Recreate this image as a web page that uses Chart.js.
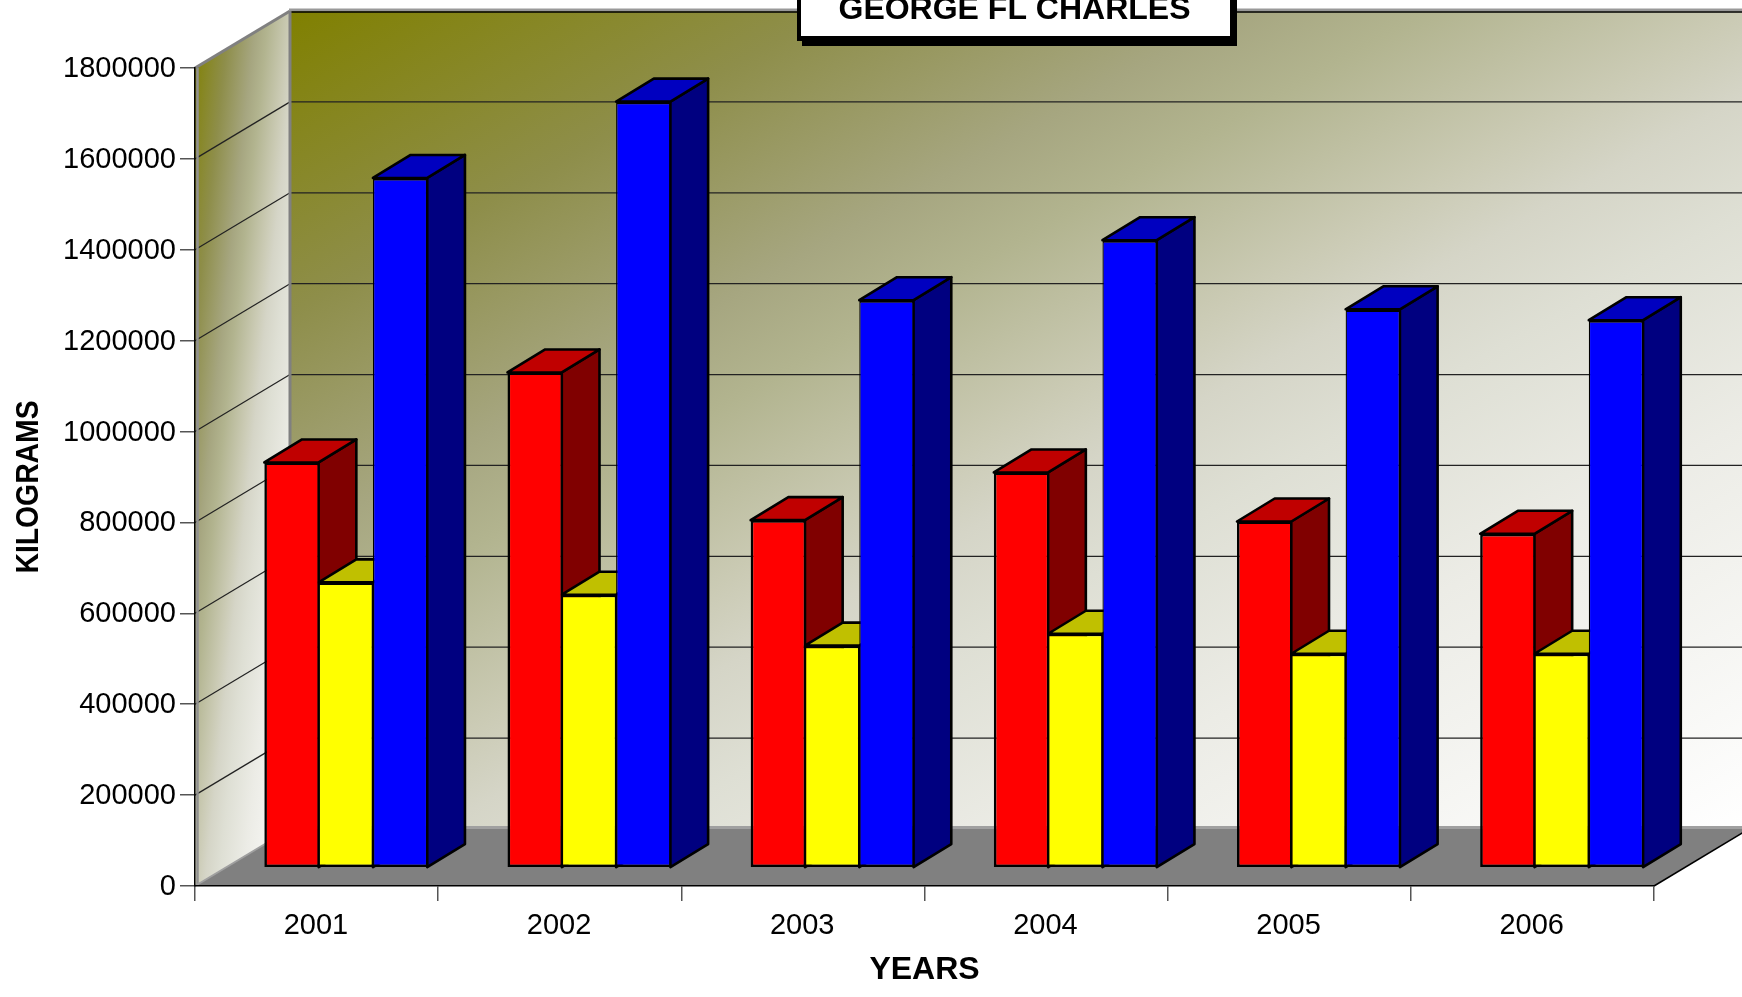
<!DOCTYPE html>
<html>
<head>
<meta charset="utf-8">
<title>GEORGE FL CHARLES</title>
<script src="https://cdn.jsdelivr.net/npm/chart.js@4"></script>
<style>
html,body{margin:0;padding:0;background:#fff;overflow:hidden}
canvas{display:block}
</style>
</head>
<body>
<canvas id="chart" width="1742" height="997"></canvas>
<script>
const years = ["2001","2002","2003","2004","2005","2006"];
const redValues = [892000,1090000,765000,870000,762000,735000];
const yellowValues = [628000,601000,489000,515000,471000,471000];
const blueValues = [1518000,1686000,1249000,1381000,1229000,1205000];
const yTicks = [0,200000,400000,600000,800000,1000000,1200000,1400000,1600000,1800000];

const chartTitle = "GEORGE FL CHARLES";
const yTitle = "KILOGRAMS";
const xTitle = "YEARS";

// fake 3d: how far the back wall sits behind the axes, and where the bars stand on the floor
const wallX = 95, wallY = 57;
const shiftX = 29.2, shiftY = 18.2;
const barDepthX = 37.7, barDepthY = 23;

const fontName = '"Liberation Sans", Arial, sans-serif';

function diagonalFill(ctx, x, y, w, h, points, stops){
  ctx.save();
  ctx.beginPath();
  points.forEach((p,i) => i ? ctx.lineTo(p[0],p[1]) : ctx.moveTo(p[0],p[1]));
  ctx.closePath();
  ctx.clip();
  ctx.translate(x,y);
  ctx.scale(w,h);
  let grad = ctx.createLinearGradient(0,0,1,1);
  stops.forEach(s => grad.addColorStop(s[0],s[1]));
  ctx.fillStyle = grad;
  ctx.fillRect(0,0,1,1);
  ctx.restore();
}

function line(ctx, x1, y1, x2, y2, color, width){
  ctx.strokeStyle = color;
  ctx.lineWidth = width;
  ctx.beginPath();
  ctx.moveTo(x1,y1);
  ctx.lineTo(x2,y2);
  ctx.stroke();
}

const wallStops = [[0,"#808000"],[0.185,"#8e8e4a"],[0.325,"#a6a680"],[0.39,"#b2b48f"],[0.5,"#cbcbb5"],
  [0.55,"#d5d5c7"],[0.62,"#dedfd4"],[0.75,"#ecece6"],[1,"#ffffff"]];

const roomPlugin = {
  id: "room",
  beforeDraw(chart){
    const ctx = chart.ctx;
    const a = chart.chartArea;
    const y = chart.scales.y;
    const backTop = a.top - wallY, backBottom = a.bottom - wallY;
    const backLeft = a.left + wallX, backRight = a.right + wallX;

    // nudge the tick labels to where the original has them
    y.getLabelItems().forEach(item => { item.options.translation[1] += 1; });
    chart.scales.x.getLabelItems().forEach(item => { item.options.translation[0] -= 0.7; });

    diagonalFill(ctx, backLeft, backTop, backRight-backLeft, backBottom-backTop,
      [[backLeft,backTop],[backRight,backTop],[backRight,backBottom],[backLeft,backBottom]], wallStops);
    diagonalFill(ctx, a.left, backTop, wallX, a.bottom-backTop,
      [[a.left,a.top],[backLeft,backTop],[backLeft,backBottom],[a.left,a.bottom]], wallStops);

    // floor
    ctx.fillStyle = "#808080";
    ctx.beginPath();
    ctx.moveTo(a.left,a.bottom);
    ctx.lineTo(a.right,a.bottom);
    ctx.lineTo(backRight,backBottom);
    ctx.lineTo(backLeft,backBottom);
    ctx.closePath();
    ctx.fill();
    line(ctx, a.right, a.bottom, backRight, backBottom, "#000", 1.5);
    line(ctx, backLeft, backBottom-1.5, backRight, backBottom-1.5, "#a0a0a0", 3);

    yTicks.forEach(v => {
      if(v === 0 || v === 1800000) return;
      let py = y.getPixelForValue(v);
      line(ctx, a.left, py, backLeft, py-wallY, "#222", 1.2);
      line(ctx, backLeft, py-wallY, backRight, py-wallY, "#222", 1.2);
    });

    // wall edges
    line(ctx, a.left+2.5, a.top, a.left+2.5, a.bottom, "#909090", 2.5);
    line(ctx, a.left, a.top, backLeft, backTop, "#808080", 3);
    line(ctx, backLeft-1, backTop-1, backRight, backTop-1, "#999", 3);
    line(ctx, backLeft, backTop+1, backRight, backTop+1, "#000", 1.5);
    line(ctx, backLeft, backTop, backLeft, backBottom, "#808080", 3);
    line(ctx, a.left, a.bottom, backLeft, backBottom, "#a0a0a0", 2);
  },
  // sides and tops first, left to right, then the library draws all the front faces over them
  beforeDatasetsDraw(chart){
    const ctx = chart.ctx;
    ctx.save();
    ctx.lineWidth = 2.6;
    ctx.lineJoin = "round";
    ctx.strokeStyle = "#000";
    chart.data.datasets.forEach((ds,i) => {
      chart.getDatasetMeta(i).data.forEach(bar => {
        let right = bar.x + bar.width/2 + shiftX;
        let left = bar.x - bar.width/2 + shiftX;
        let top = bar.y - shiftY;
        let bottom = bar.base - shiftY;
        ctx.fillStyle = ds.sideColor;
        ctx.beginPath();
        ctx.moveTo(right,top);
        ctx.lineTo(right+barDepthX,top-barDepthY);
        ctx.lineTo(right+barDepthX,bottom-barDepthY);
        ctx.lineTo(right,bottom);
        ctx.closePath();
        ctx.fill();
        ctx.stroke();
        ctx.fillStyle = ds.topColor;
        ctx.beginPath();
        ctx.moveTo(left,top);
        ctx.lineTo(left+barDepthX,top-barDepthY);
        ctx.lineTo(right+barDepthX,top-barDepthY);
        ctx.lineTo(right,top);
        ctx.closePath();
        ctx.fill();
        ctx.stroke();
      });
    });
    ctx.restore();
  },
  // the front face is the library's own bar, moved back onto the floor
  beforeDatasetDraw(chart){
    chart.ctx.save();
    chart.ctx.translate(shiftX,-shiftY);
  },
  afterDatasetDraw(chart){
    chart.ctx.restore();
  },
  afterDraw(chart){
    const ctx = chart.ctx;
    // y title, a little squeezed along its length in the original
    ctx.save();
    ctx.translate(38,487);
    ctx.rotate(-Math.PI/2);
    ctx.scale(0.885,1);
    ctx.font = "bold 32px " + fontName;
    ctx.fillStyle = "#000";
    ctx.textAlign = "center";
    ctx.textBaseline = "alphabetic";
    ctx.fillText(yTitle,0,0);
    ctx.restore();
    // title box, runs off the top of the page
    ctx.save();
    ctx.fillStyle = "#000";
    ctx.fillRect(802,0,435,46);
    ctx.fillRect(797,0,437,41);
    ctx.fillStyle = "#fff";
    ctx.fillRect(801,0,429,36);
    ctx.fillStyle = "#000";
    ctx.font = "bold 32px " + fontName;
    ctx.textAlign = "center";
    ctx.textBaseline = "alphabetic";
    ctx.fillText(chartTitle,1014.5,19);
    ctx.restore();
  }
};

new Chart(document.getElementById("chart"), {
  type: "bar",
  data: {
    labels: years,
    datasets: [
      {label:"Red", data:redValues, backgroundColor:"#ff0000", sideColor:"#800000", topColor:"#c00000",
        borderColor:"#000", borderWidth:{left:2.6,right:1.3,top:2.6,bottom:2.6}, borderSkipped:false},
      {label:"Yellow", data:yellowValues, backgroundColor:"#ffff00", sideColor:"#808000", topColor:"#c0c000",
        borderColor:"#000", borderWidth:{left:1.3,right:1.3,top:2.6,bottom:2.6}, borderSkipped:false},
      {label:"Blue", data:blueValues, backgroundColor:"#0000ff", sideColor:"#000080", topColor:"#0000c0",
        borderColor:"#000", borderWidth:{left:1.3,right:1.3,top:2.6,bottom:2.6}, borderSkipped:false}
    ]
  },
  options: {
    responsive: false,
    animation: false,
    devicePixelRatio: 1,
    categoryPercentage: 0.67,
    barPercentage: 1,
    clip: false,
    layout: {padding:{left:0,top:68,right:88,bottom:0}},
    plugins: {legend:{display:false}, tooltip:{enabled:false}},
    scales: {
      x: {
        afterFit(s){ s.height = 111; },
        grid: {drawOnChartArea:false, tickLength:15, color:"#555", lineWidth:1.5},
        border: {color:"#000", width:1.5},
        ticks: {color:"#000", font:{family:fontName,size:29}, padding:8, maxRotation:0, autoSkip:false},
        title: {display:true, text:xTitle, color:"#000", font:{family:fontName,size:32,weight:"bold"}, padding:{top:0,bottom:8}}
      },
      y: {
        min: 0,
        max: 1800000,
        afterFit(s){ s.width = 195; },
        afterBuildTicks(s){ s.ticks = yTicks.map(v => ({value:v})); },
        grid: {drawOnChartArea:false, tickLength:15, color:"#555", lineWidth:1.5},
        border: {color:"#000", width:1.5},
        ticks: {color:"#000", font:{family:fontName,size:29}, padding:4, callback:v => String(v)}
      }
    }
  },
  plugins: [roomPlugin]
});
</script>
</body>
</html>
